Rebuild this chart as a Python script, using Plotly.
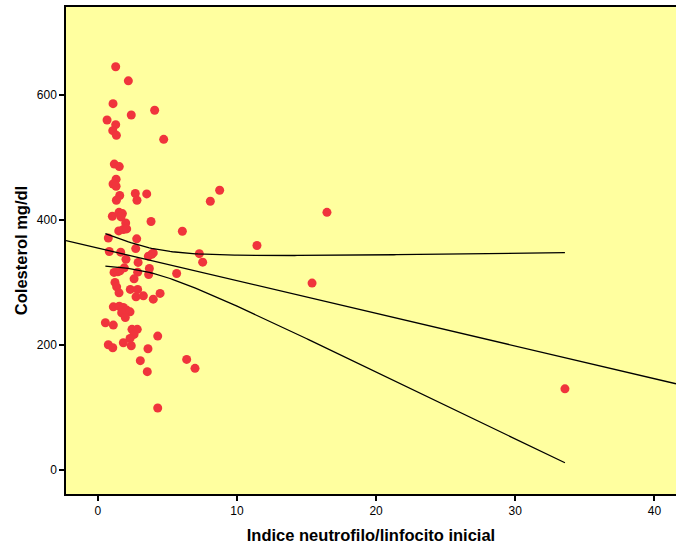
import numpy as np
import plotly.graph_objects as go

# Scatter data
nli = [1.29, 2.2, 1.1, 2.41, 4.09, 0.67, 1.29, 1.08, 1.34, 4.74,
       1.19, 1.55, 1.32, 1.1, 1.32, 1.58, 1.34, 2.7, 2.82, 3.52,
       8.76, 8.09, 1.05, 1.53, 1.77, 1.67, 2.01, 3.83, 6.08, 0.76,
       1.51, 1.84, 2.08, 2.8, 2.73, 0.83, 1.65, 2.03, 2.9, 3.64,
       3.88, 3.99, 7.3, 7.54, 11.44, 5.67, 1.17, 1.44, 1.6, 1.91,
       2.87, 3.71, 3.66, 2.61, 1.24, 1.36, 1.53, 2.34, 2.87, 2.75,
       3.28, 3.99, 4.48, 1.12, 1.55, 1.84, 2.08, 2.32, 1.72, 1.98,
       0.55, 1.12, 2.46, 2.84, 2.61, 2.32, 4.31, 0.76, 1.08, 1.84,
       2.41, 3.61, 3.06, 3.56, 6.39, 6.99, 4.31, 16.47, 15.4, 33.57]
colesterol = [644.6, 622, 585.6, 567.4, 575, 559.5, 552, 542.5, 535, 528.6,
              489, 485, 464.8, 457.3, 453.6, 438.8, 431.3, 442, 431.3, 441.4,
              447.3, 429.7, 405.8, 412, 410, 404.7, 395, 397.3, 381.8, 371,
              382.3, 384.5, 385.5, 369.6, 354, 349.4, 348.3, 337, 332, 342,
              345, 347.2, 346, 332.4, 359, 314.3, 316, 317, 318.5, 323.3,
              316.4, 322.3, 312.7, 305.7, 300, 293, 283.4, 288.8, 288.8, 277,
              278.6, 273.3, 282.4, 261, 262, 260, 255.8, 253, 251.5, 244,
              235.5, 231.8, 225, 225, 217, 210.6, 214.3, 200.4, 195.6, 203.6,
              198.8, 194, 175, 157.4, 177, 162.7, 99.4, 412, 298.9, 130]

# Fit line and mean-confidence band parameters
fit_intercept = 355.0
fit_slope = -5.22
band_center_x = 3.6
band_a = 388.0
band_b = 30.95
band_x_min = 0.55
band_x_max = 33.57

x_range = [-2.28, 41.55]
y_range = [-38, 740]
x_ticks = [0, 10, 20, 30, 40]
y_ticks = [0, 200, 400, 600]

fig = go.Figure()

fig.add_trace(go.Scatter(
    x=nli, y=colesterol, mode="markers",
    marker=dict(color="#F0343C", size=9, line=dict(width=0)),
    showlegend=False, hoverinfo="x+y"))

xl = np.array(x_range)
fig.add_trace(go.Scatter(
    x=xl, y=fit_intercept + fit_slope * xl, mode="lines",
    line=dict(color="black", width=1.3), showlegend=False))

xb = np.linspace(band_x_min, band_x_max, 200)
center = fit_intercept + fit_slope * xb
hw = np.sqrt(band_a + band_b * (xb - band_center_x) ** 2)
for sign in (1, -1):
    fig.add_trace(go.Scatter(
        x=xb, y=center + sign * hw, mode="lines",
        line=dict(color="black", width=1.3), showlegend=False))

fig.update_layout(
    width=676, height=545,
    margin=dict(l=66, r=0, t=7, b=51),
    paper_bgcolor="white", plot_bgcolor="#FFFF9F",
    font=dict(family="Liberation Sans, Arial, sans-serif", color="black", size=12),
    showlegend=False,
)
fig.update_xaxes(
    range=x_range, tickvals=x_ticks, showgrid=False, zeroline=False,
    showline=True, linecolor="black", linewidth=1.5, mirror=True,
    ticks="outside", ticklen=5, tickcolor="black", tickwidth=1.5,
    tickfont=dict(size=12),
    title=dict(text="<b>Indice neutrofilo/linfocito inicial</b>",
               font=dict(size=16.5), standoff=12),
)
fig.update_yaxes(
    range=y_range, tickvals=y_ticks, showgrid=False, zeroline=False,
    showline=True, linecolor="black", linewidth=1.5,
    ticks="outside", ticklen=5, tickcolor="black", tickwidth=1.5,
    tickfont=dict(size=12),
    title=dict(text="<b>Colesterol mg/dl</b>", font=dict(size=16.5), standoff=5),
)

fig.write_html("out.html")
